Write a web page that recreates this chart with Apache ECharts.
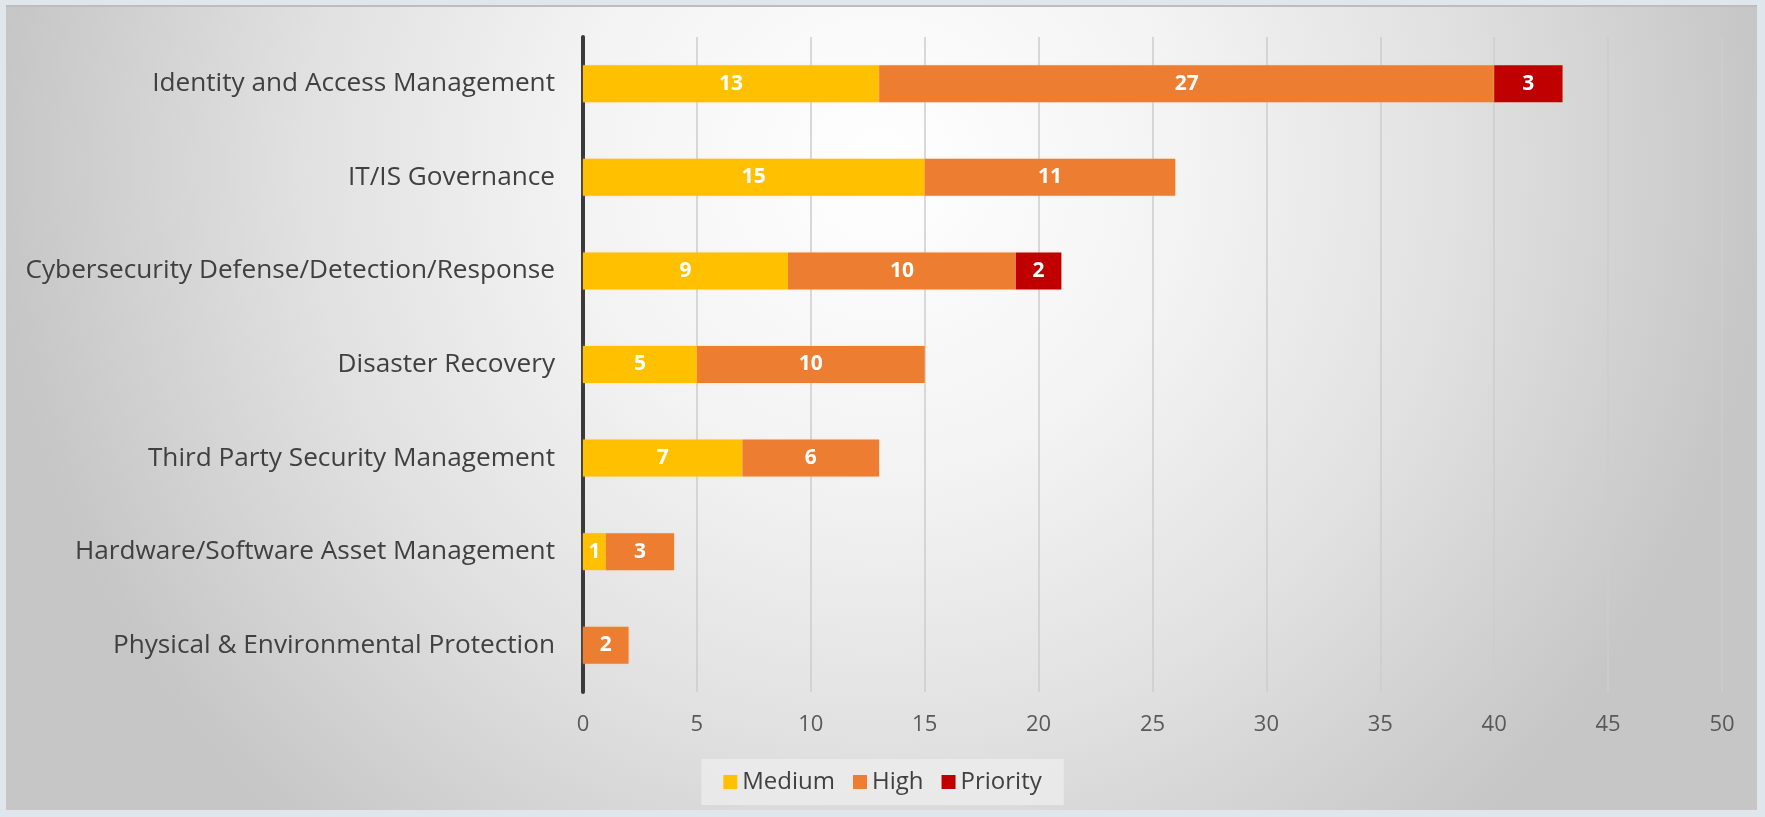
<!DOCTYPE html>
<html>
<head>
<meta charset="utf-8">
<script src="https://cdn.jsdelivr.net/npm/echarts@6/dist/echarts.min.js"></script>
<style>
html,body{margin:0;padding:0;background:#dfe7ec;}
#c{width:1765px;height:817px;}
</style>
</head>
<body>
<div id="c"></div>
<script>
const categories = [
  "Identity and Access Management",
  "IT/IS Governance",
  "Cybersecurity Defense/Detection/Response",
  "Disaster Recovery",
  "Third Party Security Management",
  "Hardware/Software Asset Management",
  "Physical & Environmental Protection"
];
const medium   = [13, 15, 9, 5, 7, 1, 0];
const high     = [27, 11, 10, 10, 6, 3, 2];
const priority = [3, 0, 2, 0, 0, 0, 0];
const seriesNames = ["Medium", "High", "Priority"];
const xTicks = { min: 0, max: 50, interval: 5 };

const FONT = "Open Sans";
const cv = document.createElement('canvas').getContext('2d');
cv.font = "100px '" + FONT + "'";
const w100 = cv.measureText("Identity and Access Management").width;
const catSize = Math.round(100 * 403 / w100 * 10) / 10;

const chart = echarts.init(document.getElementById('c'));
const colors = ['#FFC000', '#ED7D31', '#C00000'];
const toData = a => a.map(v => v === 0 ? '-' : v);
const mk = (name, arr, i) => ({
  name, type: 'bar', stack: 'total', data: toData(arr), barWidth: 37,
  itemStyle: { color: colors[i], shadowColor: 'rgba(255,190,120,0.45)', shadowBlur: 3 },
  label: { show: true, position: 'inside', color: '#ffffff', fontWeight: 'bold',
           fontSize: 21, fontFamily: FONT }
});

chart.setOption({
  animation: false,
  backgroundColor: 'transparent',
  textStyle: { fontFamily: FONT },
  graphic: [
    { type: 'rect', z: -100, shape: { x: 6, y: 6, width: 1751, height: 804 },
      style: { fill: { type: 'radial', x: 0.5, y: 0.2, r: 1.1,
        colorStops: [
          { offset: 0, color: '#ffffff' },
          { offset: 0.35, color: '#f3f3f3' },
          { offset: 0.65, color: '#e1e1e1' },
          { offset: 1, color: '#c6c6c6' }
        ] } } },
    { type: 'rect', z: -99, shape: { x: 6, y: 5, width: 1751, height: 2 },
      style: { fill: '#bdbdbd' } }
  ],
  grid: { left: 583, right: 43, top: 37, bottom: 125, containLabel: false },
  legend: {
    data: seriesNames, bottom: 12, left: 'center', icon: 'rect',
    itemWidth: 14, itemHeight: 14, itemGap: 18,
    padding: [11, 22, 11, 22],
    backgroundColor: 'rgba(238,238,238,0.75)',
    textStyle: { fontSize: 24, color: '#404040', fontFamily: FONT }
  },
  xAxis: {
    type: 'value', min: xTicks.min, max: xTicks.max, interval: xTicks.interval,
    axisLine: { show: false }, axisTick: { show: false },
    splitLine: { show: true, lineStyle: { color: '#cdcdcd', width: 1.5 } },
    axisLabel: { color: '#595959', fontSize: 22, margin: 22, fontFamily: FONT }
  },
  yAxis: {
    type: 'category', inverse: true, data: categories,
    axisLine: { show: true, lineStyle: { color: '#3a3a3a', width: 4 } },
    axisTick: { show: false },
    axisLabel: { color: '#404040', fontSize: catSize, margin: 28, fontFamily: FONT }
  },
  series: [mk('Medium', medium, 0), mk('High', high, 1), mk('Priority', priority, 2)]
});
</script>
</body>
</html>
